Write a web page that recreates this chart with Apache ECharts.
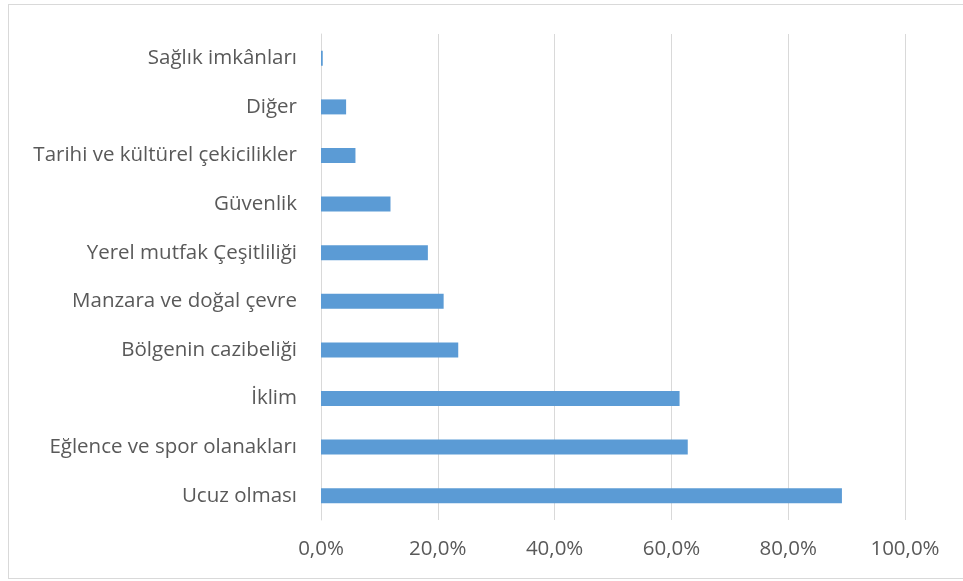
<!DOCTYPE html>
<html>
<head>
<meta charset="utf-8">
<script src="https://cdn.jsdelivr.net/npm/echarts@6/dist/echarts.min.js"></script>
<style>
  html, body { margin: 0; padding: 0; background: #ffffff; }
  #frame { position: absolute; left: 8px; top: 4px; width: 970px; height: 575px; border: 1px solid #d9d9d9; box-sizing: border-box; }
  #chart { position: absolute; left: 0; top: 0; width: 963px; height: 581px; }
</style>
</head>
<body>
<div id="frame"></div>
<div id="chart"></div>
<script>
// Categories listed bottom to top (category axis starts at the bottom)
const categories = [
  'Ucuz olması',
  'Eğlence ve spor olanakları',
  'İklim',
  'Bölgenin cazibeliği',
  'Manzara ve doğal çevre',
  'Yerel mutfak Çeşitliliği',
  'Güvenlik',
  'Tarihi ve kültürel çekicilikler',
  'Diğer',
  'Sağlık imkânları'
];
// Share of respondents, percent
const shares = [89.2, 62.8, 61.4, 23.5, 21.0, 18.3, 11.9, 5.9, 4.3, 0.3];
const axisTicks = [0, 20, 40, 60, 80, 100];

const chart = echarts.init(document.getElementById('chart'));
chart.setOption({
  animation: false,
  grid: { left: 321, right: 58, top: 34, bottom: 61, containLabel: false },
  xAxis: {
    type: 'value',
    min: axisTicks[0],
    max: axisTicks[axisTicks.length - 1],
    interval: axisTicks[1] - axisTicks[0],
    axisLine: { show: false },
    axisTick: { show: false },
    splitLine: { show: true, lineStyle: { color: '#d9d9d9', width: 1 } },
    axisLabel: {
      margin: 19,
      color: '#595959',
      fontFamily: 'Open Sans',
      fontSize: 20.5,
      formatter: v => v.toFixed(1).replace('.', ',') + '%'
    }
  },
  yAxis: {
    type: 'category',
    data: categories,
    axisLine: { show: true, lineStyle: { color: '#d9d9d9', width: 1 } },
    axisTick: { show: false },
    axisLabel: {
      margin: 24,
      color: '#595959',
      fontFamily: 'Open Sans',
      fontSize: 20.5
    }
  },
  series: [{
    type: 'bar',
    data: shares,
    barWidth: 15,
    itemStyle: { color: '#5b9bd5' }
  }]
});
</script>
</body>
</html>
